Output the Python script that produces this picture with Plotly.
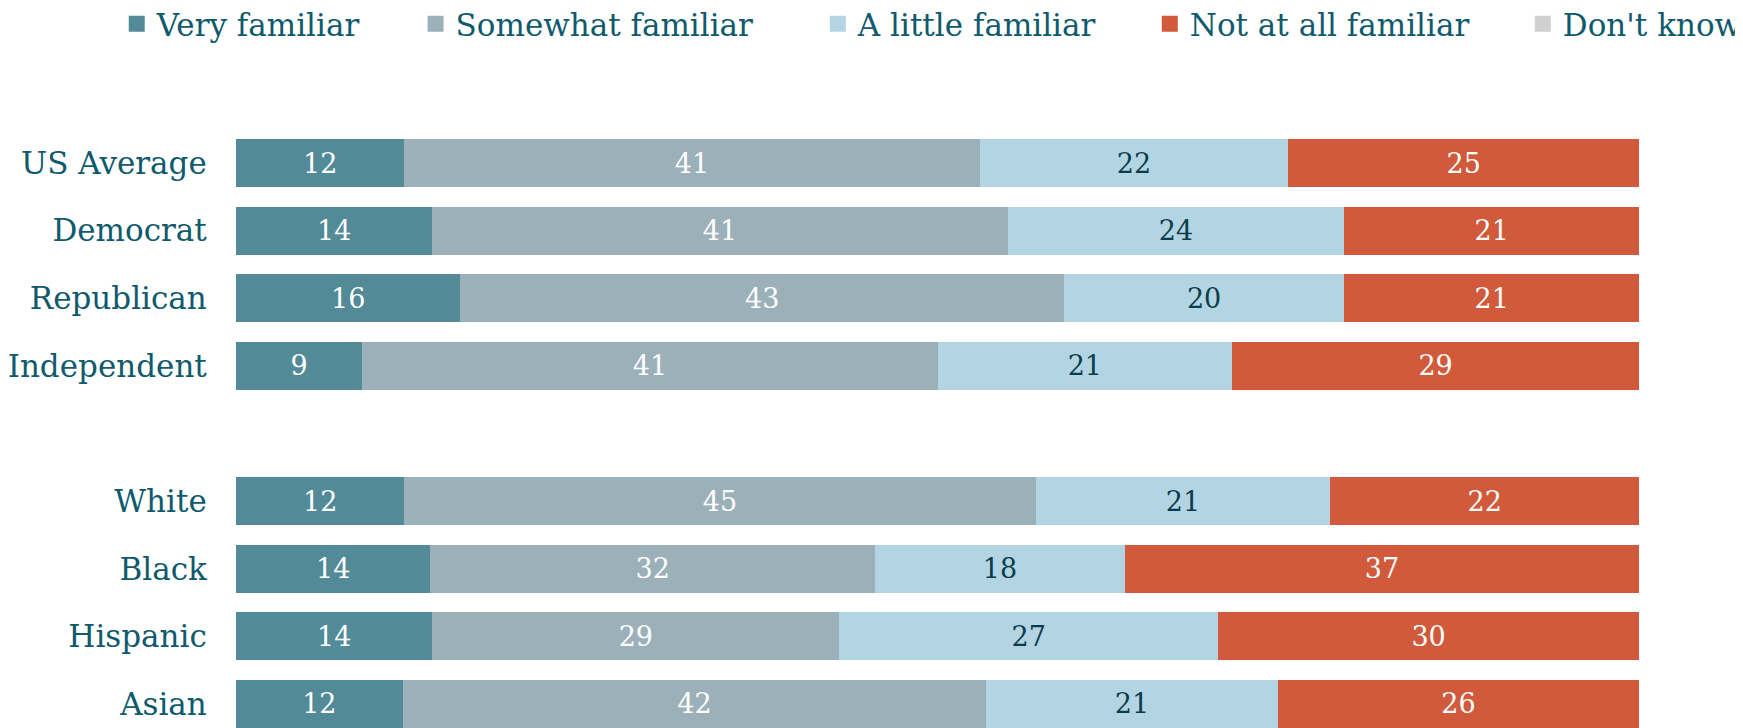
import plotly.graph_objects as go

# ---- data ----
categories = ["US Average", "Democrat", "Republican", "Independent",
              "White", "Black", "Hispanic", "Asian"]
group_sizes = [4, 4]  # two blocks separated by a blank row

very_familiar = [12, 14, 16, 9, 12, 14, 14, 12]
somewhat_familiar = [41, 41, 43, 41, 45, 32, 29, 42]
little_familiar = [22, 24, 20, 21, 21, 18, 27, 21]
not_familiar = [25, 21, 21, 29, 22, 37, 30, 26]
dont_know = [0, 0, 0, 0, 0, 0, 0, 0]

series_names = ["Very familiar", "Somewhat familiar", "A little familiar",
                "Not at all familiar", "Don't know"]
series_values = [very_familiar, somewhat_familiar, little_familiar,
                 not_familiar, dont_know]
series_colors = ["#528a98", "#9cb0ba", "#b3d5e3", "#d05a3b", "#d0d0d0"]
text_colors = ["#ffffff", "#ffffff", "#0b3c4c", "#ffffff", "#0b3c4c"]

FONT = "DejaVu Serif"
LABEL_COLOR = "#0f5a6d"

# row positions: blocks separated by one empty row
positions = []
idx = 0
for g, size in enumerate(group_sizes):
    for k in range(size):
        positions.append(idx + g)
        idx += 1

fig = go.Figure()
for name, vals, col, tcol in zip(series_names, series_values, series_colors, text_colors):
    fig.add_trace(go.Bar(
        name=name, y=positions, x=vals, orientation="h",
        marker=dict(color=col, line=dict(width=0)),
        text=[str(v) if v else "" for v in vals],
        texttemplate="%{text}",
        textposition="inside", insidetextanchor="middle",
        textfont=dict(family=FONT, size=27, color=tcol),
        showlegend=False, hoverinfo="skip",
    ))

legend_x = [-0.085, 0.128, 0.4147, 0.6513, 0.9172]
legend_keys = ["legend"] + [f"legend{i}" for i in range(2, len(series_names) + 1)]
for name, col, key in zip(series_names, series_colors, legend_keys):
    # legend entry with a larger square swatch
    fig.add_trace(go.Scatter(
        name=name, x=[None], y=[None], mode="markers",
        marker=dict(symbol="square", size=16, color=col),
        showlegend=True, legend=key,
    ))

legend_layout = {}
for key, lx in zip(legend_keys, legend_x):
    legend_layout[key] = dict(
        orientation="h", x=lx, xanchor="left", yanchor="top", y=1.164,
        font=dict(family=FONT, size=31, color=LABEL_COLOR),
        itemwidth=30, tracegroupgap=0, traceorder="normal",
        bgcolor="rgba(0,0,0,0)",
    )

fig.update_layout(
    width=1735, height=720,
    barmode="stack", barnorm="percent", bargap=0.29,
    plot_bgcolor="white", paper_bgcolor="white",
    margin=dict(l=228, r=104, t=92, b=0, autoexpand=False),
    font=dict(family=FONT, color=LABEL_COLOR),
    **legend_layout,
)
fig.update_xaxes(range=[0, 100], visible=False, fixedrange=True)
fig.update_yaxes(
    range=[8.355, -0.932], tickmode="array", tickvals=positions, ticktext=categories,
    tickfont=dict(family=FONT, size=31, color=LABEL_COLOR),
    showgrid=False, zeroline=False, showline=False,
    ticks="outside", ticklen=22, tickcolor="rgba(0,0,0,0)",
)

fig.write_html("out.html")
